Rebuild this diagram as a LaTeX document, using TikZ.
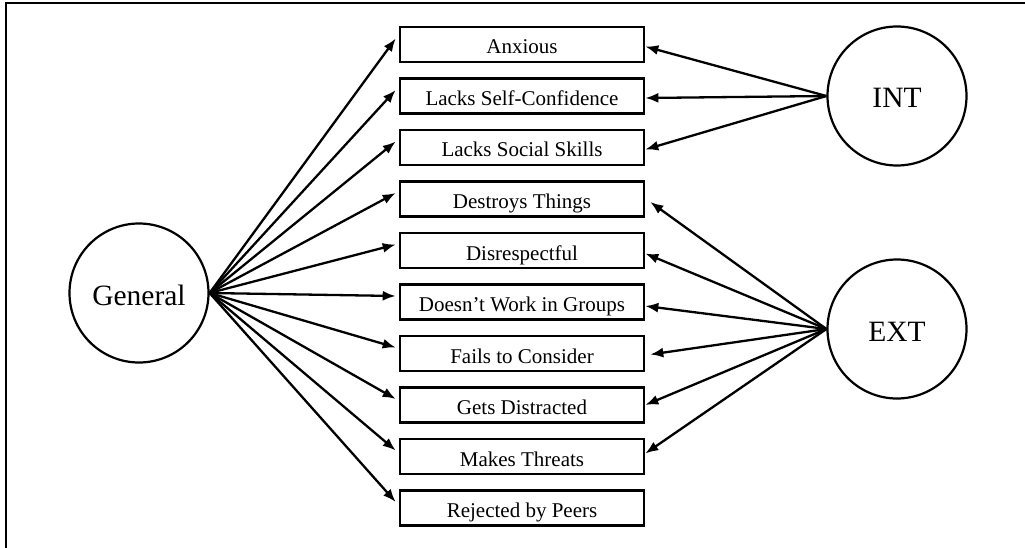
\documentclass[tikz,border=0pt]{standalone}
\usepackage{fontspec}
\setmainfont{Liberation Serif}
\usetikzlibrary{arrows.meta}
\begin{document}
\begin{tikzpicture}[x=1pt,y=-1pt,
  itembox/.style={draw,line width=2.6pt,rectangle,minimum width=244pt,minimum height=35pt,
    inner sep=0pt,text height=19pt,text depth=0pt,font=\fontsize{21pt}{24pt}\selectfont},
  latent/.style={draw,line width=2.2pt,circle,minimum size=139pt,inner sep=0pt,
    text height=24pt,text depth=0pt,font=\fontsize{29.5pt}{32pt}\selectfont},
  path/.style={line width=2.3pt,-{Latex[length=13pt,width=10pt]}}]
\useasboundingbox (0,0) rectangle (1025,548);
\draw[line width=2pt] (5.5,548) -- (5.5,3.5) -- (1025,3.5);
\node[latent] (gen) at (139,293) {General};
\node[latent] (int) at (897,96) {INT};
\node[latent] (ext) at (897,329) {EXT};
\node[itembox] (b1) at (522,44.5) {Anxious};
\node[itembox] (b2) at (522,96) {Lacks Self-Confidence};
\node[itembox] (b3) at (522,147.5) {Lacks Social Skills};
\node[itembox] (b4) at (522,199) {Destroys Things};
\node[itembox] (b5) at (522,250.5) {Disrespectful};
\node[itembox] (b6) at (522,302) {Doesn’t Work in Groups};
\node[itembox] (b7) at (522,353.5) {Fails to Consider};
\node[itembox] (b8) at (522,405) {Gets Distracted};
\node[itembox] (b9) at (522,456.5) {Makes Threats};
\node[itembox] (b10) at (522,508) {Rejected by Peers};
\foreach \i in {1,...,10}{
  \draw[path] (gen.east) -- ([xshift=-3pt,yshift=6pt]b\i.west);
}
\foreach \i in {1,2,3}{
  \draw[path] (int.west) -- ([yshift=-2pt]b\i.east);
}
\draw[path] (ext.west) -- ([xshift=5pt,yshift=-3pt]b4.east);
\draw[path] (ext.west) -- ([yshift=-3pt]b5.east);
\draw[path] (ext.west) -- ([yshift=-4pt]b6.east);
\draw[path] (ext.west) -- ([xshift=5pt,yshift=-1pt]b7.east);
\draw[path] (ext.west) -- (b8.east);
\draw[path] (ext.west) -- ([yshift=3pt]b9.east);
\end{tikzpicture}
\end{document}
